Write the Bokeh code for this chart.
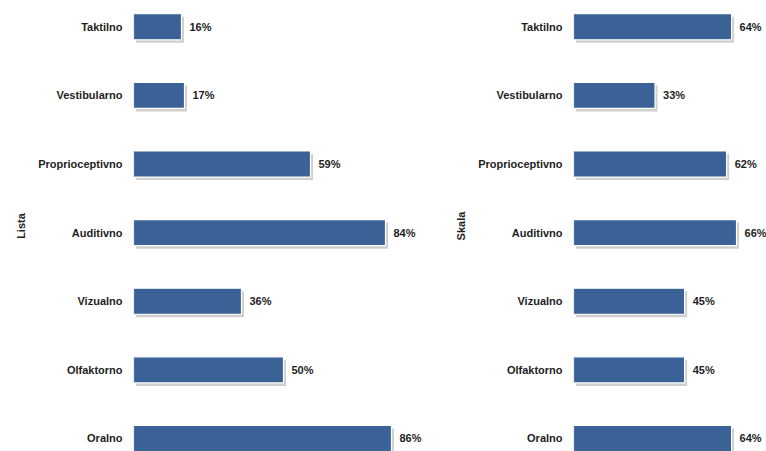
from bokeh.plotting import figure
from bokeh.layouts import row
from bokeh.models import ColumnDataSource, Range1d, FixedTicker
from bokeh.core.properties import value
from bokeh.embed import file_html
from bokeh.resources import INLINE

categories = ["Taktilno", "Vestibularno", "Proprioceptivno", "Auditivno",
              "Vizualno", "Olfaktorno", "Oralno"]
lista = [16, 17, 59, 84, 36, 50, 86]
skala = [64, 33, 62, 66, 45, 45, 64]

BAR = "#3a6296"
FONT = "Liberation Sans"
TXT = "#1e1e1e"
ROW_PX = 68.6


def panel(vals, title, width, xmax, px_per_unit):
    n = len(categories)
    ypos = list(range(n))[::-1]
    sdx = 2.5 / px_per_unit
    sdy = 3.0 / ROW_PX
    src = ColumnDataSource(dict(
        y=ypos, v=vals,
        sy=[y - sdy for y in ypos],
        sl=[sdx] * n,
        sr=[v + sdx for v in vals],
        lab=[f"{v}%" for v in vals],
    ))
    p = figure(width=width, height=451, output_backend="svg", toolbar_location=None,
               x_range=Range1d(0, xmax), y_range=Range1d(-0.19, 6.383),
               x_axis_location=None, min_border_left=133, min_border_right=0,
               min_border_top=0, min_border_bottom=0)
    p.outline_line_color = None
    p.grid.visible = False
    p.hbar(y="sy", left="sl", right="sr", height=0.38, source=src,
           fill_color="#a8a8a8", fill_alpha=0.55, line_color=None)
    p.hbar(y="y", left=0, right="v", height=0.38, source=src,
           fill_color=BAR, line_color="white", line_width=1.2)
    p.text(x="v", y="y", text="lab", source=src, x_offset=8,
           text_align="left", text_baseline="middle",
           text_font=value(FONT), text_font_size="11px",
           text_font_style="bold", text_color=TXT)
    ax = p.yaxis[0]
    ax.ticker = FixedTicker(ticks=ypos)
    ax.major_label_overrides = {y: c for y, c in zip(ypos, categories)}
    ax.axis_line_color = None
    ax.major_tick_line_color = None
    ax.minor_tick_line_color = None
    ax.major_tick_out = 0
    ax.major_tick_in = 0
    ax.major_label_standoff = 11
    ax.major_label_text_font = FONT
    ax.major_label_text_font_size = "11px"
    ax.major_label_text_font_style = "bold"
    ax.major_label_text_color = TXT
    ax.axis_label = title
    ax.axis_label_text_font = FONT
    ax.axis_label_text_font_size = "11px"
    ax.axis_label_text_font_style = "bold"
    ax.axis_label_text_color = TXT
    ax.axis_label_standoff = 8
    return p


left = panel(lista, "Lista", 440, 307 / 3.0, 3.0)
right = panel(skala, "Skala", 326, 193 / 2.47, 2.47)
layout = row(left, right, spacing=0)

open("out.html", "w").write(file_html(layout, INLINE))
